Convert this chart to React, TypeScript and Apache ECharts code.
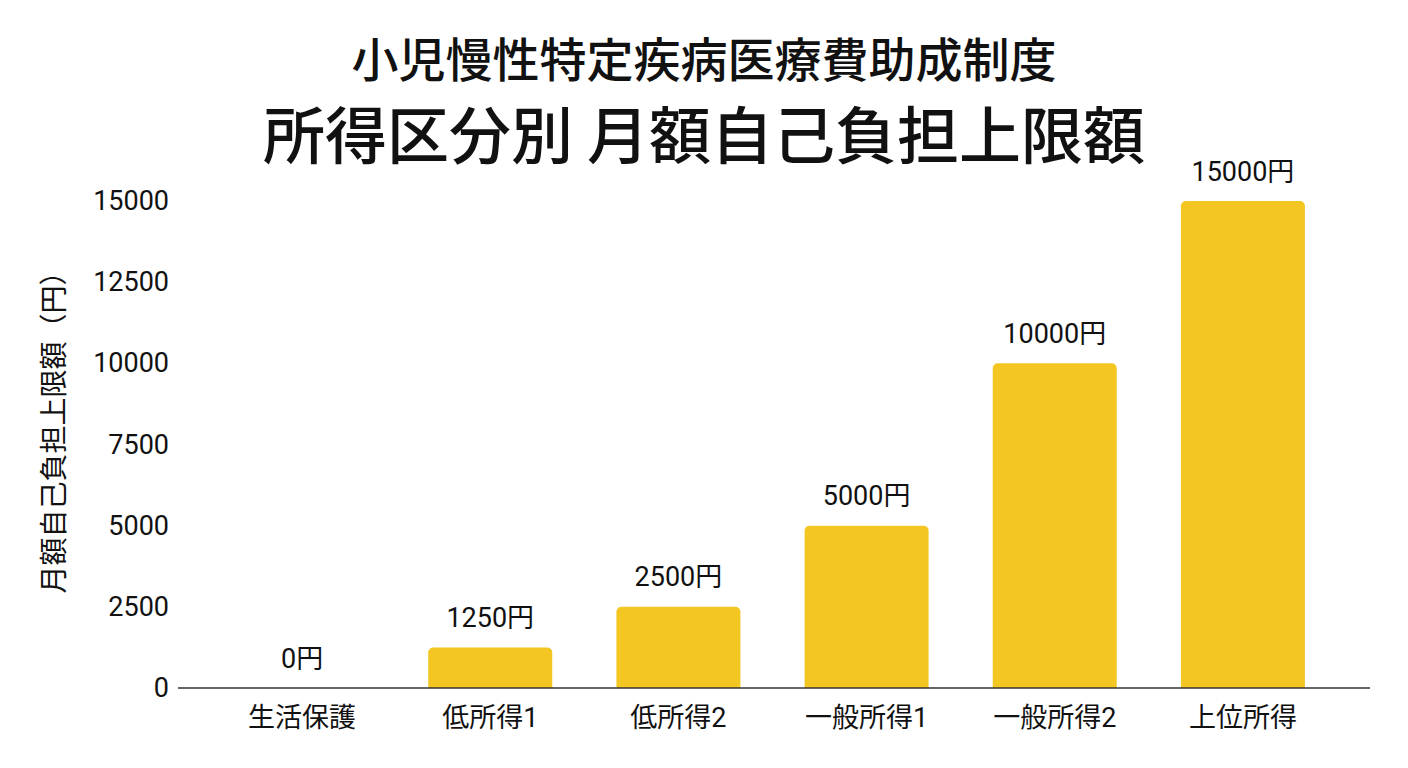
import React, { useEffect, useRef } from "react";
import * as echarts from "echarts";

const categories = ["生活保護", "低所得1", "低所得2", "一般所得1", "一般所得2", "上位所得"];
const limits = [0, 1250, 2500, 5000, 10000, 15000];
const yTicks = [0, 2500, 5000, 7500, 10000, 12500, 15000];

const titleLine1 = "小児慢性特定疾病医療費助成制度";
const titleLine2 = "所得区分別 月額自己負担上限額";
const yName = "月額自己負担上限額（円）";

const FONT = "Roboto, 'Noto Sans CJK JP', sans-serif";
const CJK = "'Noto Sans CJK JP', sans-serif";
const BAR = "#F4C622";

export default function App() {
  const ref = useRef<HTMLDivElement>(null);

  useEffect(() => {
    if (!ref.current) return;
    const chart = echarts.init(ref.current, undefined, { renderer: "svg" });
    chart.setOption({
      animation: false,
      backgroundColor: "#ffffff",
      textStyle: { fontFamily: FONT },
      title: [
        {
          text: titleLine1,
          left: "center",
          top: 28,
          textStyle: { fontFamily: CJK, fontSize: 47, fontWeight: 500, color: "#111" },
        },
        {
          text: titleLine2,
          left: "center",
          top: 96,
          textStyle: { fontFamily: CJK, fontSize: 62, fontWeight: 500, color: "#111" },
        },
      ],
      grid: { left: 208, right: 71, top: 201, bottom: 80 },
      xAxis: {
        type: "category",
        data: categories,
        axisLine: { show: false },
        axisTick: { show: false },
        axisLabel: { fontFamily: FONT, fontSize: 27, color: "#111", margin: 16 },
      },
      yAxis: {
        type: "value",
        min: yTicks[0],
        max: yTicks[yTicks.length - 1],
        interval: 2500,
        name: yName,
        nameLocation: "middle",
        nameGap: 142,
        nameRotate: 90,
        nameTextStyle: { fontFamily: CJK, fontSize: 28, color: "#111", padding: [0, 0, 0, 38] },
        splitLine: { show: false },
        axisLine: { show: false },
        axisTick: { show: false },
        axisLabel: {
          fontFamily: FONT,
          fontSize: 27,
          color: "#111",
          margin: 39,
          formatter: (v: number) => String(v),
        },
      },
      graphic: [
        {
          type: "line",
          shape: { x1: 178, y1: 688, x2: 1370, y2: 688 },
          style: { stroke: "#333", lineWidth: 1.5 },
          z: 10,
        },
      ],
      series: [
        {
          type: "bar",
          data: limits,
          barWidth: 124,
          itemStyle: { color: BAR, borderRadius: [5, 5, 0, 0] },
          label: {
            show: true,
            position: "top",
            distance: 16,
            formatter: (p: any) => `${p.value}円`,
            fontFamily: FONT,
            fontSize: 27,
            color: "#111",
          },
        },
      ],
    });
    return () => chart.dispose();
  }, []);

  return (
    <div
      ref={ref}
      style={{ position: "fixed", left: 0, top: 0, width: 1408, height: 768, background: "#fff" }}
    />
  );
}
